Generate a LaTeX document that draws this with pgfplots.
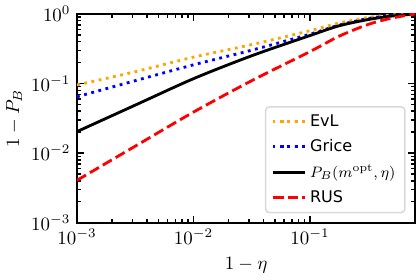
\documentclass[border=0pt]{standalone}
\usepackage{pgfplots}
\pgfplotsset{compat=1.18}
\usepackage{fontspec}
\newfontfamily\dejavu{DejaVu Sans}
\begin{document}
\begin{tikzpicture}
\begin{loglogaxis}[
  scale only axis,
  width=179pt, height=110.5pt,
  xmin=1e-3, xmax=0.8,
  ymin=1e-3, ymax=1,
  axis line style={line width=0.9pt},
  every tick/.style={line width=0.8pt, black},
  major tick length=3.8pt,
  minor tick length=2.2pt,
  xtick={1e-3,1e-2,1e-1},
  ytick={1e-3,1e-2,1e-1,1},
  xlabel={$1-\eta$},
  ylabel={$1-P_B$},
  ylabel style={yshift=-2pt},
  legend cell align=left,
  legend style={at={(0.972,0.045)}, anchor=south east,
    draw=black!15, rounded corners=2pt, line width=0.8pt,
    font=\dejavu\fontsize{8.5}{10}\selectfont, row sep=1.5pt,
    inner xsep=3pt, inner ysep=2pt},
]
\addplot[color={rgb,255:red,255;green,165;blue,0}, line width=1.5pt, dash pattern=on 1.5pt off 2.4pt, smooth] coordinates {
(0.001,0.0955) (0.003162,0.148) (0.01,0.240) (0.03162,0.363) (0.1,0.575) (0.1778,0.741) (0.3162,0.891) (0.5012,0.966) (0.8,1.0)};
\addlegendentry{EvL}
\addplot[color=blue, line width=1.5pt, dash pattern=on 1.5pt off 2.4pt, smooth] coordinates {
(0.001,0.0646) (0.003162,0.110) (0.01,0.186) (0.03162,0.302) (0.1,0.513) (0.1778,0.692) (0.3162,0.861) (0.5012,0.955) (0.8,1.0)};
\addlegendentry{Grice}
\addplot[color=black, line width=1.5pt, smooth] coordinates {
(0.001,0.0204) (0.003162,0.049) (0.01,0.1175) (0.03162,0.251) (0.1,0.490) (0.1778,0.676) (0.3162,0.832) (0.5012,0.933) (0.8,1.0)};
\addlegendentry{$P_B(m^{\mathrm{opt}},\eta)$}
\addplot[color=red, line width=1.5pt, dash pattern=on 5.5pt off 2.4pt, smooth] coordinates {
(0.001,0.00407) (0.003162,0.0126) (0.01,0.0389) (0.03162,0.110) (0.1,0.288) (0.1778,0.479) (0.3162,0.708) (0.5012,0.871) (0.8,1.0)};
\addlegendentry{RUS}
\end{loglogaxis}
\end{tikzpicture}
\end{document}
